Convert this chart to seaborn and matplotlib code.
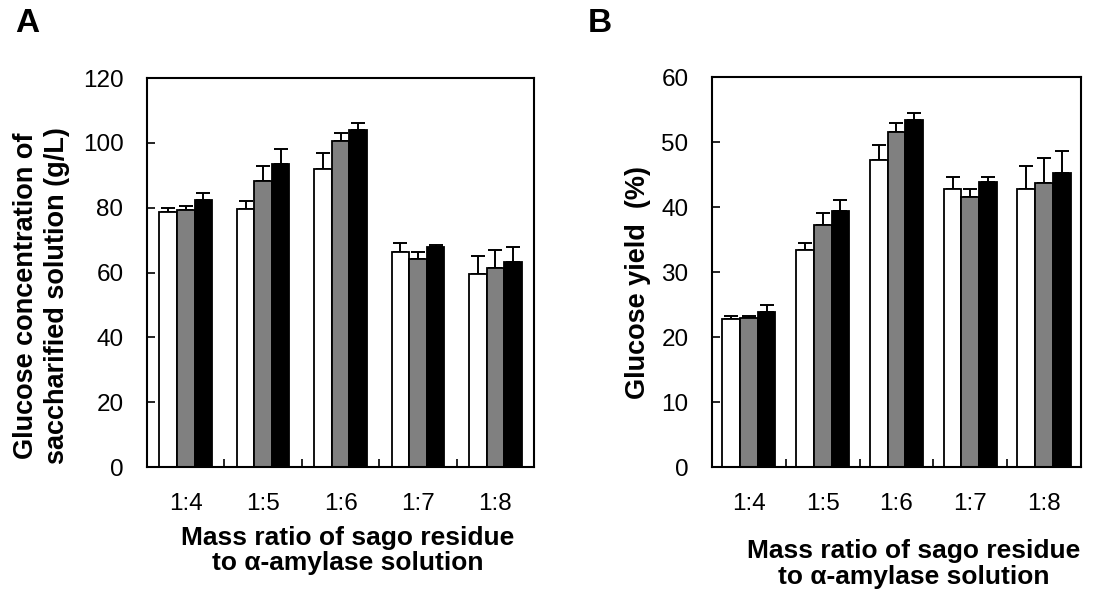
import numpy as np
import pandas as pd
import matplotlib
matplotlib.use("Agg")
import matplotlib.pyplot as plt
import seaborn as sns

# --- data ---
ratios = ["1:4", "1:5", "1:6", "1:7", "1:8"]
series = ["S1", "S2", "S3"]          # white / grey / black bars
colors = ["white", "#808080", "black"]

# Panel A: glucose concentration (g/L)
conc_s1 = [78.7, 79.5, 92.0, 66.2, 59.4]
conc_s2 = [79.4, 88.3, 100.5, 64.2, 61.3]
conc_s3 = [82.5, 93.6, 104.1, 68.0, 63.4]
conc_err_s1 = [1.2, 2.5, 5.0, 2.8, 5.6]
conc_err_s2 = [1.2, 4.6, 2.6, 2.1, 5.6]
conc_err_s3 = [2.1, 4.5, 1.9, 0.5, 4.6]

# Panel B: glucose yield (%)
yield_s1 = [22.7, 33.4, 47.3, 42.7, 42.7]
yield_s2 = [23.0, 37.2, 51.6, 41.6, 43.7]
yield_s3 = [23.8, 39.4, 53.4, 43.8, 45.2]
yield_err_s1 = [0.5, 1.0, 2.2, 1.9, 3.6]
yield_err_s2 = [0.3, 1.9, 1.3, 1.1, 3.9]
yield_err_s3 = [1.1, 1.7, 1.1, 0.8, 3.4]

TICK_FONT = 17.5
XLABEL_FONT = 19
YLABEL_FONT = 19.5


def long_df(vals, errs):
    rows = []
    for s, v, e in zip(series, vals, errs):
        for r, vv, ee in zip(ratios, v, e):
            rows.append({"ratio": r, "series": s, "value": vv, "err": ee})
    return pd.DataFrame(rows)


def draw_panel(ax, df, width, ylim, yticks):
    sns.barplot(data=df, x="ratio", y="value", hue="series", order=ratios,
                hue_order=series, palette=colors, edgecolor="black",
                linewidth=1.3, width=width, gap=0, errorbar=None,
                legend=False, ax=ax, zorder=2)
    # upper-only error bars centred on each bar
    for cont, s in zip(ax.containers, series):
        sub = df[df["series"] == s].set_index("ratio").loc[ratios]
        xs = [p.get_x() + p.get_width() / 2 for p in cont.patches]
        ys = sub["value"].values
        err = sub["err"].values
        ax.errorbar(xs, ys, yerr=[np.zeros_like(err), err], fmt="none",
                    ecolor="black", elinewidth=1.4, capsize=4.8,
                    capthick=1.4, zorder=1)
    ax.set_xlim(-0.5, len(ratios) - 0.5)
    ax.set_ylim(*ylim)
    ax.set_yticks(yticks)
    ax.tick_params(axis="y", direction="in", length=6, width=1.2,
                   labelsize=TICK_FONT, pad=17)
    ax.tick_params(axis="x", which="major", length=0, labelsize=TICK_FONT, pad=19)
    ax.set_xticks(np.arange(len(ratios)) + 0.5, minor=True)
    ax.tick_params(axis="x", which="minor", direction="in", length=6, width=1.2)
    for sp in ax.spines.values():
        sp.set_linewidth(1.5)
        sp.set_color("black")
    ax.set_ylabel("")
    ax.set_xlabel("")


plt.rcParams["font.family"] = ["Liberation Sans", "DejaVu Sans"]

fig = plt.figure(figsize=(11.03, 5.92), dpi=100)
axA = fig.add_axes([0.1333, 0.2111, 0.3509, 0.6571])
axB = fig.add_axes([0.6455, 0.2111, 0.3345, 0.6588])

draw_panel(axA, long_df([conc_s1, conc_s2, conc_s3],
                        [conc_err_s1, conc_err_s2, conc_err_s3]),
           0.68, (0, 120), range(0, 121, 20))
draw_panel(axB, long_df([yield_s1, yield_s2, yield_s3],
                        [yield_err_s1, yield_err_s2, yield_err_s3]),
           0.72, (0, 60), range(0, 61, 10))

# axis labels
fig.text(0.038, 0.50, "Glucose concentration of\nsaccharified solution (g/L)",
         rotation=90, ha="center", va="center", fontsize=YLABEL_FONT,
         fontweight="bold", linespacing=1.25)
fig.text(0.5784, 0.5236, "Glucose yield  (%)", rotation=90, ha="center",
         va="center", fontsize=YLABEL_FONT, fontweight="bold")
fig.text(0.3155, 0.0700, "Mass ratio of sago residue\nto \u03b1-amylase solution",
         ha="center", va="center", fontsize=XLABEL_FONT, fontweight="bold",
         linespacing=1.05)
fig.text(0.8287, 0.0480, "Mass ratio of sago residue\nto \u03b1-amylase solution",
         ha="center", va="center", fontsize=XLABEL_FONT, fontweight="bold",
         linespacing=1.1)

# panel letters
fig.text(0.0136, 0.9595, "A", fontsize=24, fontweight="bold", va="center")
fig.text(0.533, 0.9595, "B", fontsize=24, fontweight="bold", va="center")

fig.savefig("out.png", dpi=100)
